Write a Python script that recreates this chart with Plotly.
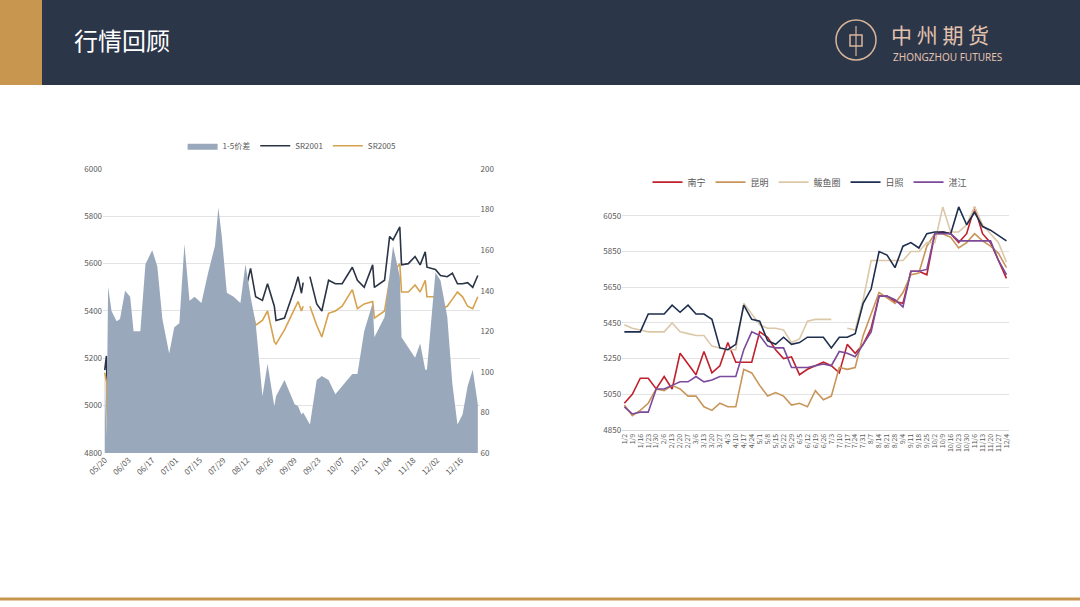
import plotly.graph_objects as go
import datetime as dt

# ---------- left chart data ----------
left_days = [0,1,2,4,7,9,12,15,17,18,21,24,28,31,34,38,41,44,47,50,53,57,61,65,67,69,72,76,80,83,86,89,93,96,100,101,106,112,114,116,117,119,121,125,128,132,136,140,146,149,153,158,159,165,168,170,174,175,179,183,186,189,190,195,198,202,205,208,211,214,217,220]
sr2001 = [5150,5210,4880,4920,4850,4940,4950,5050,5000,None,5045,5165,5110,5115,5035,4980,5035,5080,5205,5120,5130,5155,5115,5120,5250,5380,5305,5360,5395,5490,5580,5460,5445,5515,5420,5360,5370,5495,5545,5475,5520,None,5545,5430,5400,5530,5515,5515,5585,5530,5500,5595,5500,5530,5715,5700,5755,5595,5600,5630,5595,5650,5585,5575,5550,5545,5560,5515,5515,5520,5500,5550]
sr2005 = [5140,5100,4790,4790,4790,4805,4815,4915,4890,None,4920,5010,4960,4950,4930,4900,4900,4920,5010,4960,4990,5000,4960,4920,4930,5180,5200,5220,5240,5310,5420,5340,5360,5400,5270,5260,5320,5410,5440,5400,5420,None,5420,5340,5290,5390,5400,5420,5490,5410,5430,5440,5370,5400,5530,5560,5600,5480,5480,5510,5480,5530,5460,5460,5410,5420,5450,5480,5460,5420,5410,5460]
spread = [100,68,142,130,125,126,140,137,120,None,120,153,160,152,126,109,122,124,163,135,137,134,149,162,181,167,139,137,134,153,137,124,88,104,83,88,96,84,83,79,80,None,74,96,98,96,89,93,99,99,120,134,117,127,150,162,147,117,112,107,114,101,101,149,145,127,94,74,79,93,101,84]
left_ticks = ["2019-05-20","2019-06-03","2019-06-17","2019-07-01","2019-07-15","2019-07-29","2019-08-12","2019-08-26","2019-09-09","2019-09-23","2019-10-07","2019-10-21","2019-11-04","2019-11-18","2019-12-02","2019-12-16"]

# ---------- right chart data ----------
right_weeks = list(range(49))
nanning = [5000,5050,5140,5140,5080,5150,5080,5280,5220,5160,5290,5170,5210,5340,5230,5230,5230,5400,5370,5300,5250,5260,5160,5190,5210,5230,5210,5170,5330,5280,5330,5420,5600,5600,5570,5560,5740,5740,5720,5950,5960,5950,5900,5950,6100,5950,5900,5800,5700]
kunming = [4990,4930,4960,5000,5080,5070,5100,5080,5040,5040,4980,4960,5000,4980,4980,5190,5170,5100,5040,5060,5040,4990,5000,4980,5070,5020,5040,5200,5190,5200,5380,5500,5620,5590,5560,5620,5720,5730,5880,5950,5950,5930,5870,5900,5950,5910,5880,5840,5760]
bayuquan = [5440,5420,5410,5400,5400,5400,5450,5400,5390,5380,5380,5320,5310,5300,5300,5560,5500,5440,5420,5420,5410,5340,5360,5460,5470,5470,5470,None,5420,5410,5580,5800,5800,5800,5800,5800,5850,5850,5900,5900,6100,5960,5960,6000,6100,6000,5950,5900,5790]
rizhao = [5400,5400,5400,5500,5500,5500,5550,5510,5550,5500,5500,5470,5310,5300,5330,5550,5470,5460,5350,5330,5370,5330,5340,5370,5370,5370,5310,5370,5370,5390,5560,5640,5850,5830,5760,5880,5900,5870,5950,5960,5960,5950,6100,6000,6070,5990,5970,5940,5910]
zhanjiang = [4980,4940,4950,4950,5080,5080,5100,5120,5120,5150,5120,5130,5150,5150,5150,5300,5400,5380,5320,5310,5310,5200,5200,5200,5210,5220,5210,5290,5280,5260,5330,5400,5600,5600,5580,5540,5740,5740,5750,5950,5950,5950,5910,5910,5910,5910,5910,5800,5720]

start_l = dt.date(2019, 5, 20)
lx = [start_l + dt.timedelta(days=d) for d in left_days]
start_r = dt.date(2019, 1, 2)
rx = [start_r + dt.timedelta(days=7 * w) for w in right_weeks]

fig = go.Figure()
fig.add_trace(go.Scatter(x=lx, y=spread, name="1-5价差", fill="tozeroy", mode="lines",
                         line=dict(color="#9AA8BC", width=0), fillcolor="#9AA8BC",
                         xaxis="x", yaxis="y2", legend="legend", connectgaps=False))
fig.add_trace(go.Scatter(x=lx, y=sr2001, name="SR2001", mode="lines",
                         line=dict(color="#2B3445", width=1.6), xaxis="x", yaxis="y", legend="legend"))
fig.add_trace(go.Scatter(x=lx, y=sr2005, name="SR2005", mode="lines",
                         line=dict(color="#D6A24E", width=1.6), xaxis="x", yaxis="y", legend="legend"))

for name, ys, col in [("南宁", nanning, "#C0202C"), ("昆明", kunming, "#C8955A"),
                      ("鲅鱼圈", bayuquan, "#DCC8A8"), ("日照", rizhao, "#1E2E4E"),
                      ("湛江", zhanjiang, "#7B4A9B")]:
    fig.add_trace(go.Scatter(x=rx, y=ys, name=name, mode="lines", line=dict(color=col, width=1.6),
                             xaxis="x3", yaxis="y3", legend="legend2"))

font = dict(family="Noto Sans CJK SC", size=8, color="#595959")
fig.update_layout(
    width=1080, height=607, autosize=False, margin=dict(l=0, r=0, t=0, b=0, pad=0),
    paper_bgcolor="white", plot_bgcolor="white", font=font,
    xaxis=dict(domain=[0.0954, 0.444], anchor="y", type="date", automargin=False,
               range=["2019-05-19", "2019-12-27"], tickvals=left_ticks, ticktext=[t[5:].replace("-", "/") for t in left_ticks],
               tickangle=-45, showgrid=False, showline=False, tickfont=font),
    yaxis=dict(domain=[0.2537, 0.7216], range=[4800, 6000], dtick=200, gridcolor="#E3E3E3",
               zeroline=False, tickfont=font, automargin=False),
    yaxis2=dict(overlaying="y", side="right", anchor="x", range=[60, 200], dtick=20,
                showgrid=False, zeroline=False, tickfont=font, automargin=False),
    xaxis3=dict(domain=[0.576, 0.934], anchor="y3", type="date", automargin=False,
                range=["2018-12-31", "2019-12-06"], tick0="2019-01-02", dtick=7 * 86400000,
                tickformat="%-m/%-d", tickangle=-90, showgrid=False, showline=True,
                linecolor="#D9D9D9", tickfont=dict(family="Noto Sans CJK SC", size=7, color="#595959")),
    yaxis3=dict(domain=[0.2916, 0.662], anchor="x3", range=[4850, 6110], tickvals=[4850, 5050, 5250, 5450, 5650, 5850, 6050],
                gridcolor="#E3E3E3", zeroline=False, tickfont=font, automargin=False),
    legend=dict(orientation="h", x=0.27, y=0.76, xanchor="center", yanchor="middle", font=font,
                bgcolor="rgba(0,0,0,0)"),
    legend2=dict(orientation="h", x=0.75, y=0.70, xanchor="center", yanchor="middle",
                 font=dict(family="Noto Sans CJK SC", size=9, color="#595959"), bgcolor="rgba(0,0,0,0)"),
    showlegend=True,
)

shapes = [
    dict(type="rect", xref="paper", yref="paper", x0=0, x1=1, y0=1 - 85 / 607, y1=1, fillcolor="#2C3649", line_width=0, layer="below"),
    dict(type="rect", xref="paper", yref="paper", x0=0, x1=42 / 1080, y0=1 - 85 / 607, y1=1, fillcolor="#C8964E", line_width=0),
    dict(type="line", xref="paper", yref="paper", x0=0, x1=1, y0=1 - 599 / 607, y1=1 - 599 / 607, line=dict(color="#C8964E", width=3)),
    dict(type="circle", xref="paper", yref="paper", x0=836 / 1080, x1=876 / 1080, y0=1 - 60 / 607, y1=1 - 20 / 607, line=dict(color="#D9B59A", width=1.5)),
    dict(type="rect", xref="paper", yref="paper", x0=850 / 1080, x1=862 / 1080, y0=1 - 46 / 607, y1=1 - 35 / 607, line=dict(color="#D9B59A", width=1.5)),
    dict(type="line", xref="paper", yref="paper", x0=856 / 1080, x1=856 / 1080, y0=1 - 56 / 607, y1=1 - 26 / 607, line=dict(color="#D9B59A", width=1.2)),
]
fig.update_layout(shapes=shapes)
fig.add_annotation(x=72 / 1080, y=1 - 40 / 607, xref="paper", yref="paper", text="行情回顾", showarrow=False,
                   xanchor="left", yanchor="middle", font=dict(family="Noto Sans CJK SC", size=24, color="white"))
fig.add_annotation(x=889 / 1080, y=1 - 34 / 607, xref="paper", yref="paper", text="中 州 期 货", showarrow=False,
                   xanchor="left", yanchor="middle", font=dict(family="Noto Sans CJK SC", size=21, color="#E3C2AE"))
fig.add_annotation(x=891 / 1080, y=1 - 57 / 607, xref="paper", yref="paper", text="ZHONGZHOU FUTURES", showarrow=False,
                   xanchor="left", yanchor="middle", font=dict(family="Noto Sans", size=10, color="#E3C2AE"))

fig.write_html("out.html", config={"displayModeBar": False},
               post_script="document.body.style.margin='0';document.body.style.overflow='hidden';")
